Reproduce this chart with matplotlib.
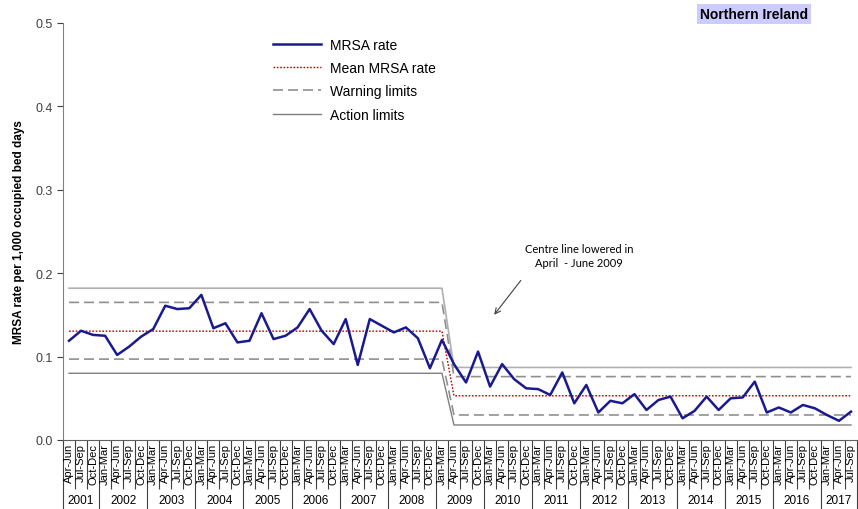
"""
MRSA rate control chart, Northern Ireland
"""

import numpy as np
import matplotlib
matplotlib.use("Agg")
import matplotlib.pyplot as plt
from matplotlib.transforms import blended_transform_factory

plt.rcParams['font.family'] = ['Liberation Sans', 'DejaVu Sans']

# quarters Apr-Jun 2001 .. Jul-Sep 2017
quarters = (['Apr-Jun', 'Jul-Sep', 'Oct-Dec']
            + ['Jan-Mar', 'Apr-Jun', 'Jul-Sep', 'Oct-Dec'] * 15
            + ['Jan-Mar', 'Apr-Jun', 'Jul-Sep'])
years = [str(y) for y in range(2001, 2018)]
quarters_per_year = [3] + [4] * 15 + [3]

rate = [0.119, 0.131, 0.126, 0.125, 0.102, 0.112, 0.124, 0.133,
        0.161, 0.157, 0.158, 0.174, 0.134, 0.140, 0.117, 0.119,
        0.152, 0.121, 0.125, 0.135, 0.157, 0.131, 0.115, 0.145,
        0.090, 0.145, 0.137, 0.129, 0.135, 0.122, 0.086, 0.120,
        0.091, 0.069, 0.106, 0.064, 0.091, 0.073, 0.062, 0.061,
        0.054, 0.081, 0.044, 0.066, 0.033, 0.047, 0.044, 0.055,
        0.036, 0.048, 0.052, 0.026, 0.035, 0.052, 0.036, 0.050,
        0.051, 0.070, 0.033, 0.039, 0.033, 0.042, 0.038, 0.030,
        0.023, 0.034]

# control limits before / after the centre line was lowered (Apr-Jun 2009)
n_before = 32
n_after = 34
mean_rate = [0.1305] * n_before + [0.053] * n_after
warn_upper = [0.165] * n_before + [0.076] * n_after
warn_lower = [0.097] * n_before + [0.030] * n_after
action_upper = [0.182] * n_before + [0.087] * n_after
action_lower = [0.080] * n_before + [0.018] * n_after

x = np.arange(len(rate))

fig = plt.figure(figsize=(8.58, 5.10), dpi=100)
ax = fig.add_axes([63 / 858, 69 / 510, 794 / 858, 417 / 510])

ax.plot(x, action_upper, color='#b0b0b0', lw=1.2)
lh_action, = ax.plot(x, action_lower, color='#7f7f7f', lw=1.0)
lh_warn, = ax.plot(x, warn_upper, color='#909090', lw=1.2, dashes=(6, 3))
ax.plot(x, warn_lower, color='#909090', lw=1.2, dashes=(6, 3))
lh_mean, = ax.plot(x, mean_rate, color='#c00000', lw=1.0, dashes=(1.2, 1.2))
lh_rate, = ax.plot(x, rate, color='#1a1a8f', lw=1.8)

ax.set_xlim(-0.5, len(rate) - 0.5)
ax.set_ylim(0, 0.5)
ax.set_yticks(np.arange(0, 0.51, 0.1))
ax.set_yticklabels(['%.1f' % v for v in np.arange(0, 0.51, 0.1)],
                   fontsize=9, color='#404040')
ax.tick_params(axis='y', length=4, color='#404040')
ax.set_ylabel('MRSA rate per 1,000 occupied bed days', fontsize=8.5,
              fontweight='bold')
ax.yaxis.set_label_coords(-0.048, 0.5)

for s in ['top', 'right']:
    ax.spines[s].set_visible(False)
ax.spines['left'].set_color('#808080')
ax.spines['bottom'].set_color('#606060')

# multi-level category axis
bounds = np.arange(len(rate) + 1) - 0.5
year_bounds = np.concatenate([[-0.5], np.cumsum(quarters_per_year) - 0.5])
ax.set_xticks(year_bounds)
ax.set_xticks(bounds, minor=True)
ax.set_xticklabels([])
ax.tick_params(axis='x', which='major', length=52, width=0.8, color='#404040')
ax.tick_params(axis='x', which='minor', length=35.5, width=0.8, color='#404040')

trans = blended_transform_factory(ax.transData, ax.transAxes)
for i, q in enumerate(quarters):
    ax.text(i, -0.006, q, rotation=90, ha='center', va='top', fontsize=8,
            transform=trans, clip_on=False)
start = 0
for yr, n in zip(years, quarters_per_year):
    ax.text(start + (n - 1) / 2, -0.145, yr, ha='center', va='center',
            fontsize=8.5, transform=trans, clip_on=False)
    start += n

ax.legend([lh_rate, lh_mean, lh_warn, lh_action],
          ['MRSA rate', 'Mean MRSA rate', 'Warning limits', 'Action limits'],
          loc='upper left', bbox_to_anchor=(0.264, 0.965), frameon=False,
          fontsize=10, handlelength=3.5, handletextpad=0.6,
          labelspacing=0.67, borderpad=0, borderaxespad=0)

ax.annotate('', xy=(35.2, 0.1475), xytext=(37.7, 0.194),
            arrowprops=dict(arrowstyle='->', color='#404040', lw=0.8))
ax.text(42.4, 0.221, 'Centre line lowered in\nApril  - June 2009',
        ha='center', va='center', fontsize=8, family=['Lato', 'DejaVu Sans'],
        linespacing=1.3)

fig.text(754 / 858, 1 - 15 / 510, 'Northern Ireland', ha='center',
         va='center', fontsize=10, fontweight='bold',
         bbox=dict(facecolor='#ccccff', edgecolor='none', pad=2))

fig.savefig('out.png', dpi=100)
